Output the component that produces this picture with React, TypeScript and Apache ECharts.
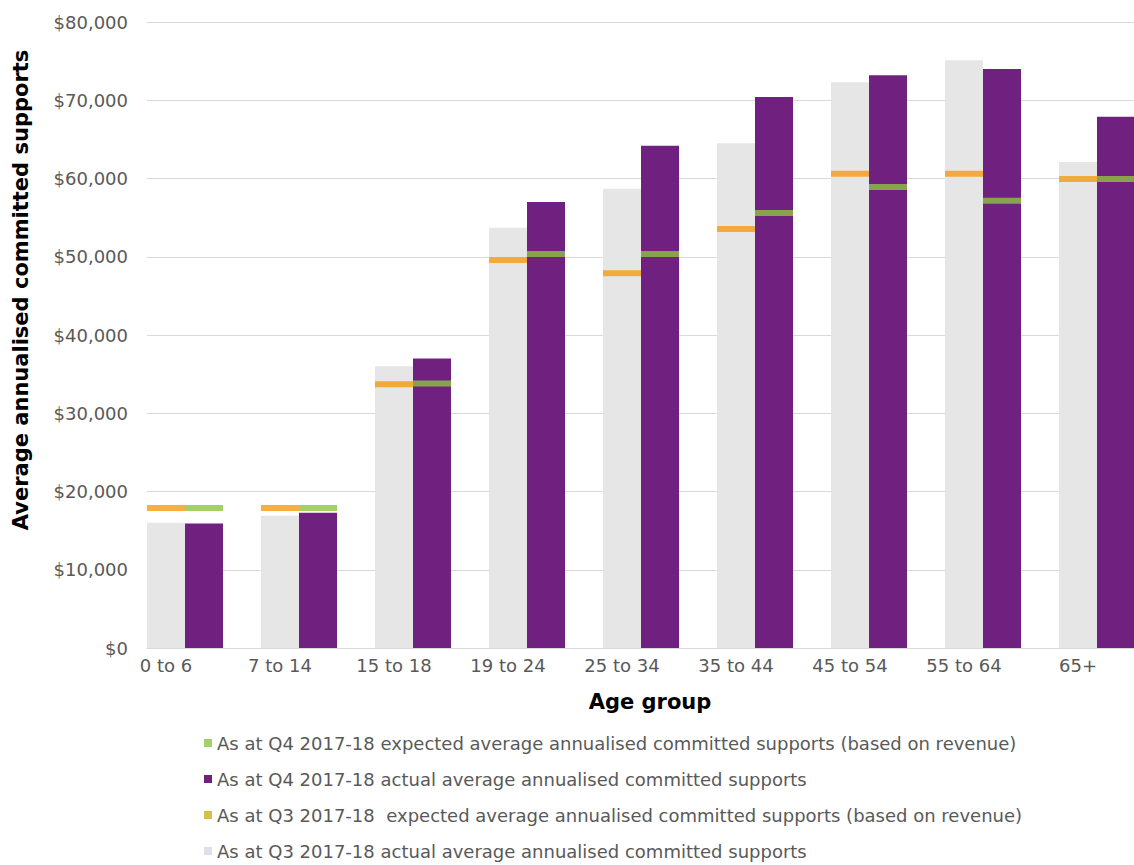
import React, { useEffect, useRef } from "react";
import * as echarts from "echarts";

const categories = ["0 to 6", "7 to 14", "15 to 18", "19 to 24", "25 to 34", "35 to 44", "45 to 54", "55 to 64", "65+"];
const q3Actual = [16000, 16900, 36000, 53700, 58700, 64500, 72300, 75100, 62100];
const q4Actual = [15900, 17300, 37000, 57000, 64200, 70400, 73200, 74000, 67900];
const q3Expected = [17900, 17900, 33700, 49600, 47900, 53550, 60600, 60600, 59950];
const q4Expected = [17900, 17900, 33800, 50350, 50350, 55600, 58900, 57150, 59950];
const emptySlot = categories.map(() => "-");

const yTicks = { min: 0, max: 80000, interval: 10000 };

const NAME_Q4_EXP = "As at Q4 2017-18 expected average annualised committed supports (based on revenue)";
const NAME_Q4_ACT = "As at Q4 2017-18 actual average annualised committed supports";
const NAME_Q3_EXP = "As at Q3 2017-18  expected average annualised committed supports (based on revenue)";
const NAME_Q3_ACT = "As at Q3 2017-18 actual average annualised committed supports";

const FONT = "DejaVu Sans";
const GREY_TEXT = "#595959";

export default function App() {
  const ref = useRef<HTMLDivElement>(null);
  useEffect(() => {
    if (!ref.current) return;
    const chart = echarts.init(ref.current, undefined, { renderer: "svg" });
    const barW = 38;
    chart.setOption({
      animation: false,
      backgroundColor: "#ffffff",
      grid: {
        left: 147,
        width: 1026,
        top: 22,
        height: 626,
        containLabel: false,
        outerBoundsMode: "none",
      },
      xAxis: {
        type: "category",
        data: categories,
        axisLine: { show: true, lineStyle: { color: "#d9d9d9", width: 1 } },
        axisTick: { show: false },
        axisLabel: {
          color: GREY_TEXT,
          fontFamily: FONT,
          fontSize: 18,
          margin: 8,
          padding: [0, 76, 0, 0],
          interval: 0,
        },
      },
      yAxis: {
        type: "value",
        min: yTicks.min,
        max: yTicks.max,
        interval: yTicks.interval,
        axisLine: { show: false },
        axisTick: { show: false },
        splitLine: { lineStyle: { color: "#d9d9d9", width: 1 } },
        axisLabel: {
          color: GREY_TEXT,
          fontFamily: FONT,
          fontSize: 18,
          margin: 19,
          formatter: (v: number) => "$" + v.toLocaleString("en-US"),
        },
      },
      legend: {
        orient: "vertical",
        left: 199,
        top: 729,
        height: 300,
        width: 930,
        itemWidth: 8,
        itemHeight: 8,
        itemGap: 18,
        icon: "rect",
        textStyle: { color: GREY_TEXT, fontFamily: FONT, fontSize: 18 },
        data: [
          { name: NAME_Q4_EXP },
          { name: NAME_Q4_ACT },
          { name: NAME_Q3_EXP, itemStyle: { color: "#c8b21a" } },
          { name: NAME_Q3_ACT, itemStyle: { color: "#dfe1ea" } },
        ],
      },
      graphic: [
        {
          type: "text",
          x: 21,
          y: 290,
          rotation: Math.PI / 2,
          style: {
            text: "Average annualised committed supports",
            font: `bold 21px "${FONT}"`,
            fill: "#000000",
            align: "center",
            verticalAlign: "middle",
          },
        },
        {
          type: "text",
          x: 650,
          y: 702,
          style: {
            text: "Age group",
            font: `bold 21px "${FONT}"`,
            fill: "#000000",
            align: "center",
            verticalAlign: "middle",
          },
        },
      ],
      series: [
        {
          name: NAME_Q3_ACT,
          type: "bar",
          data: q3Actual,
          barWidth: barW,
          barGap: "0%",
          itemStyle: { color: "#e6e6e6" },
          z: 2,
        },
        {
          name: NAME_Q4_ACT,
          type: "bar",
          data: q4Actual,
          barWidth: barW,
          barGap: "0%",
          itemStyle: { color: "#70207e" },
          z: 2,
        },
        {
          name: "spacer",
          type: "bar",
          data: emptySlot,
          barWidth: barW,
          barGap: "0%",
          itemStyle: { color: "transparent" },
          silent: true,
        },
        {
          name: NAME_Q3_EXP,
          type: "scatter",
          data: q3Expected,
          symbol: "rect",
          symbolSize: [barW, 6],
          symbolOffset: [-barW, 0],
          itemStyle: { color: "#f59b12" },
          z: 4,
        },
        {
          name: NAME_Q4_EXP,
          type: "scatter",
          data: q4Expected,
          symbol: "rect",
          symbolSize: [barW, 6],
          symbolOffset: [0, 0],
          itemStyle: { color: "#8dc641" },
          z: 4,
        },
      ],
    });
    return () => chart.dispose();
  }, []);
  return (
    <div
      ref={ref}
      style={{ position: "absolute", left: 0, top: 0, width: 1134, height: 865 }}
    />
  );
}
